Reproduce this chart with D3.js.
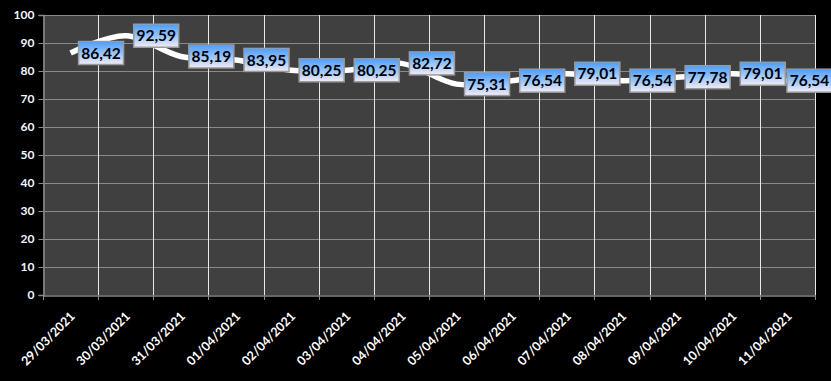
<!DOCTYPE html>
<html><head><meta charset="utf-8">
<script src="https://cdn.jsdelivr.net/npm/d3@7"></script>
<style>html,body{margin:0;padding:0;background:#000;}svg{display:block;}</style>
</head><body>
<svg id="c" width="831" height="381"></svg>
<script>
const dates = ["29/03/2021","30/03/2021","31/03/2021","01/04/2021","02/04/2021","03/04/2021","04/04/2021","05/04/2021","06/04/2021","07/04/2021","08/04/2021","09/04/2021","10/04/2021","11/04/2021"];
const values = [86.42,92.59,85.19,83.95,80.25,80.25,82.72,75.31,76.54,79.01,76.54,77.78,79.01,76.54];
const yTicks = [0,10,20,30,40,50,60,70,80,90,100];

const W = 831, H = 381;
const m = {left:43, right:16, top:15, bottom:86};
const svg = d3.select("#c");
svg.append("rect").attr("width",W).attr("height",H).attr("fill","#000");

const x = d3.scaleBand().domain(dates).range([m.left, W - m.right]).padding(0);
const y = d3.scaleLinear().domain([0,100]).range([H - m.bottom, m.top]);

const defs = svg.append("defs");
const g = defs.append("linearGradient").attr("id","lg").attr("x1",0).attr("y1",0).attr("x2",0).attr("y2",1);
g.append("stop").attr("offset","0%").attr("stop-color","#4b9dff");
g.append("stop").attr("offset","55%").attr("stop-color","#9cc8ff");
g.append("stop").attr("offset","100%").attr("stop-color","#f4ecf8");

svg.append("rect").attr("x",m.left).attr("y",m.top).attr("width",W-m.right-m.left).attr("height",H-m.bottom-m.top).attr("fill","#404040");

svg.append("g").selectAll("line").data(yTicks.filter(d=>d>0)).join("line")
  .attr("x1",m.left).attr("x2",W-m.right)
  .attr("y1",d=>Math.round(y(d))+0.5).attr("y2",d=>Math.round(y(d))+0.5)
  .attr("stroke","#8a8a8a").attr("stroke-width",1);

const bounds = dates.map(d=>x(d)+x.bandwidth());
svg.append("g").selectAll("line").data(bounds).join("line")
  .attr("x1",d=>Math.round(d)+0.5).attr("x2",d=>Math.round(d)+0.5)
  .attr("y1",m.top).attr("y2",H-m.bottom)
  .attr("stroke","#e8e8e8").attr("stroke-width",1);

const yAxis = svg.append("g").attr("transform",`translate(${m.left+0.5},0)`)
  .call(d3.axisLeft(y).tickValues(yTicks).tickSize(5).tickPadding(4));
yAxis.select(".domain").attr("stroke","#8a8a8a").attr("stroke-width",1.5);
yAxis.selectAll(".tick line").attr("stroke","#8a8a8a");
yAxis.selectAll("text").attr("fill","#f2f6ff").attr("font-family","Lato, 'Open Sans', sans-serif")
  .attr("font-weight","bold").attr("font-size","12px");

const xAxis = svg.append("g").attr("transform",`translate(0,${H-m.bottom+0.5})`)
  .call(d3.axisBottom(x).tickSize(0).tickFormat(""));
xAxis.select(".domain").attr("stroke","#8a8a8a").attr("stroke-width",1.5);
svg.append("g").selectAll("line").data([x(dates[0])].concat(bounds)).join("line")
  .attr("x1",d=>Math.round(d)+0.5).attr("x2",d=>Math.round(d)+0.5)
  .attr("y1",H-m.bottom).attr("y2",H-m.bottom+5)
  .attr("stroke","#8a8a8a");
svg.append("g").selectAll("text").data(dates).join("text")
  .attr("transform",d=>`translate(${x(d)+x.bandwidth()/2+2},${H-m.bottom+19}) rotate(-45)`)
  .attr("text-anchor","end").attr("dy","0.35em")
  .attr("fill","#fff").attr("font-family","Lato, 'Open Sans', sans-serif")
  .attr("font-weight","bold").attr("font-size","12.5px")
  .text(d=>d);

const pts = dates.map((d,i)=>[x(d)+x.bandwidth()/2, y(values[i])]);
svg.append("path").attr("d", d3.line().curve(d3.curveCatmullRom.alpha(0))(pts))
  .attr("fill","none").attr("stroke","#fff").attr("stroke-width",5.5).attr("stroke-linejoin","round");

const fmt = v => v.toFixed(2).replace(".",",");
const bw = 45, bh = 23;
const lab = svg.append("g").selectAll("g").data(pts).join("g")
  .attr("transform",(p,i)=>{
    const bx = Math.min(p[0]+8, W - bw + 1);
    return `translate(${bx},${p[1]-bh/2})`;
  });
lab.append("rect").attr("width",bw).attr("height",bh)
  .attr("fill","url(#lg)").attr("stroke","#9a9a9a").attr("stroke-width",1.5);
lab.append("text").attr("x",bw/2).attr("y",bh/2).attr("dy","0.36em")
  .attr("text-anchor","middle").attr("fill","#000")
  .attr("font-family","Lato, 'Open Sans', sans-serif").attr("font-weight","bold").attr("font-size","15.5px")
  .text((p,i)=>fmt(values[i]));
</script>
</body></html>
